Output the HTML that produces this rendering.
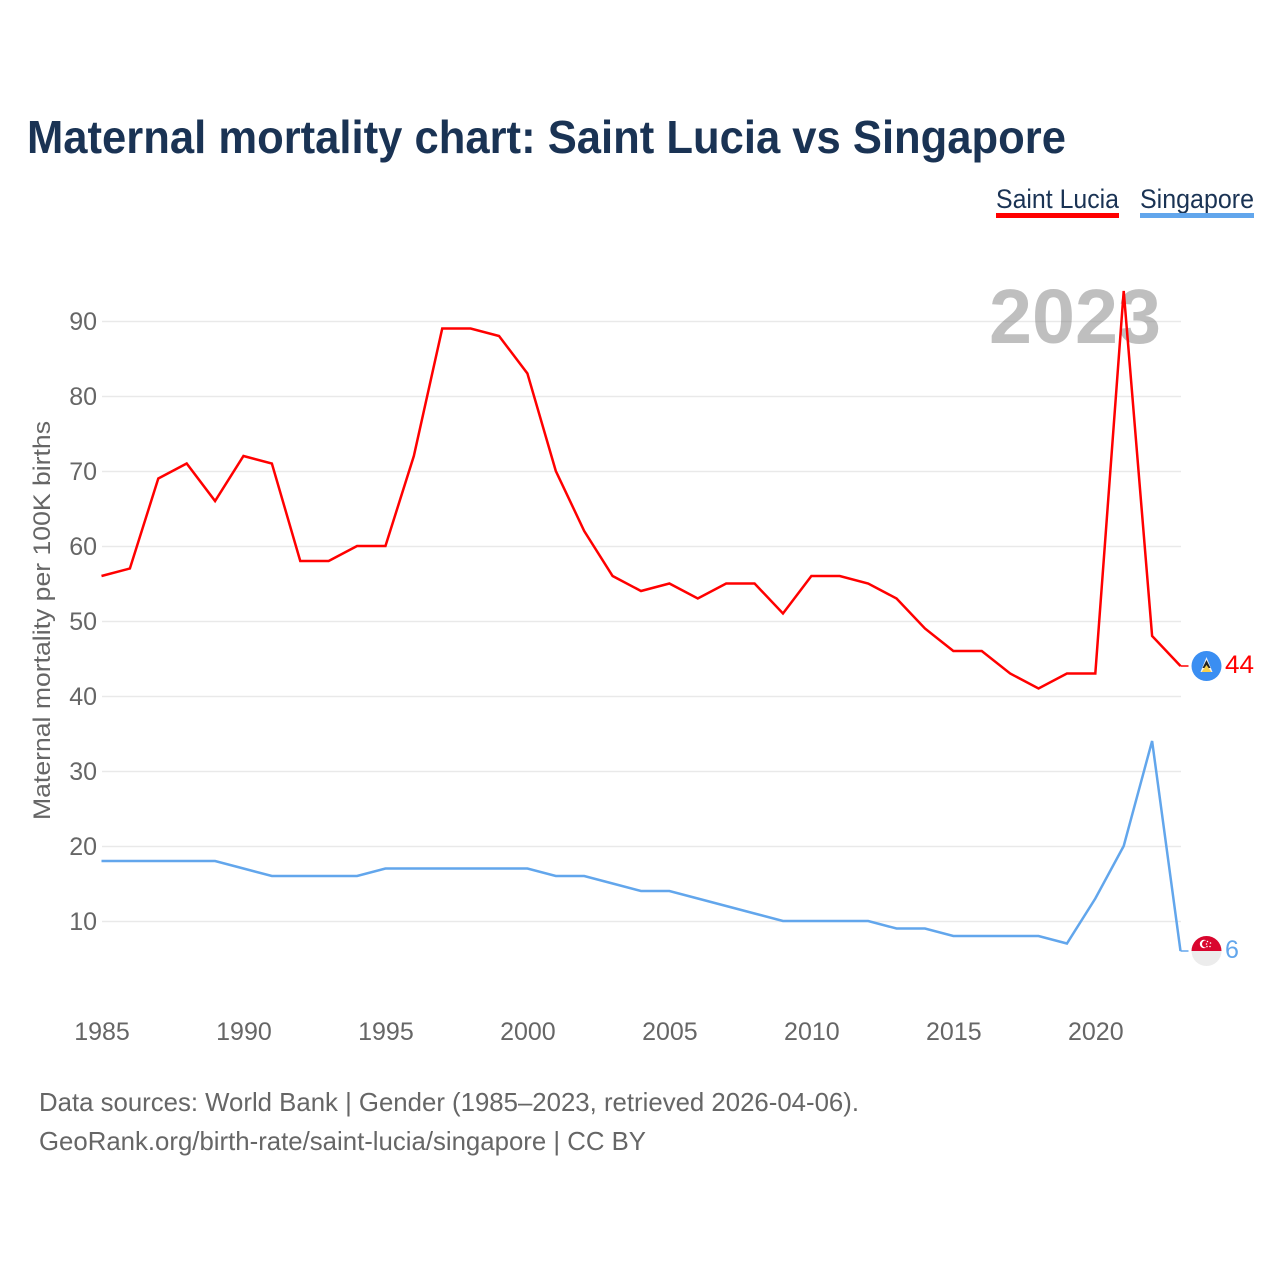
<!DOCTYPE html>
<html lang="en">
<head>
<meta charset="utf-8">
<title>Maternal mortality chart: Saint Lucia vs Singapore</title>
<style>
html,body{margin:0;padding:0;background:#fff;width:1280px;height:1280px;overflow:hidden}
svg{display:block}
text{font-family:"Liberation Sans",sans-serif}
</style>
</head>
<body>
<svg id="chart" xmlns="http://www.w3.org/2000/svg" width="1280" height="1280" viewBox="0 0 1280 1280">
  <rect width="1280" height="1280" fill="#fff"/>
  <text x="27" y="153" font-size="46" font-weight="700" fill="#1a3354" textLength="1039" lengthAdjust="spacingAndGlyphs">Maternal mortality chart: Saint Lucia vs Singapore</text>

  <g>
    <g>
      <text x="996" y="208" font-size="27" fill="#1a3354" textLength="123" lengthAdjust="spacingAndGlyphs">Saint Lucia</text>
      <rect x="996" y="213" width="123" height="5" fill="#ff0000"/>
    </g>
    <g>
      <text x="1140" y="208" font-size="27" fill="#1a3354" textLength="114" lengthAdjust="spacingAndGlyphs">Singapore</text>
      <rect x="1140" y="213" width="114" height="5" fill="#62a6ec"/>
    </g>
  </g>

  <g id="grid"></g>
  <text x="989" y="343" font-size="77" font-weight="700" fill="#808080" fill-opacity="0.5" textLength="172" lengthAdjust="spacingAndGlyphs">2023</text>
  <g id="yticks"></g>
  <g id="xticks"></g>
  <text transform="translate(50 620.5) rotate(-90)" text-anchor="middle" font-size="24" fill="#666" textLength="399" lengthAdjust="spacingAndGlyphs">Maternal mortality per 100K births</text>
  <g id="series" transform="translate(-0.5 -0.5)"></g>

  <g id="flag-lc">
    <circle cx="1206.5" cy="666" r="15" fill="#3a8ef2"/>
    <path d="M1206.5 657 L1212.5 672 H1200.5 Z" fill="#f2f2f2"/>
    <path d="M1206.5 660 L1210.5 668 H1202.5 Z" fill="#222"/>
    <path d="M1206.5 665 L1211.5 672 H1201.5 Z" fill="#f8cf4a"/>
  </g>
  <text id="end-lc" x="1225" y="673" font-size="25" fill="#ff0000" textLength="29" lengthAdjust="spacingAndGlyphs">44</text>

  <g id="flag-sg">
    <circle cx="1206.5" cy="951" r="15" fill="#ececec"/>
    <path d="M1191.5 951 A15 15 0 0 1 1221.5 951 Z" fill="#d9062e"/>
    <circle cx="1204" cy="944" r="4.2" fill="#fff"/>
    <circle cx="1205.6" cy="944" r="3.6" fill="#d9062e"/>
    <circle cx="1207.5" cy="941.5" r="0.8" fill="#fff"/>
    <circle cx="1210.5" cy="943" r="0.8" fill="#fff"/>
    <circle cx="1210" cy="946.5" r="0.8" fill="#fff"/>
    <circle cx="1207" cy="946.5" r="0.8" fill="#fff"/>
    <circle cx="1206.5" cy="944" r="0.8" fill="#fff"/>
  </g>
  <text id="end-sg" x="1225" y="958" font-size="25" fill="#62a6ec">6</text>

  <text x="39" y="1111" font-size="26" fill="#666" textLength="820" lengthAdjust="spacingAndGlyphs">Data sources: World Bank | Gender (1985–2023, retrieved 2026-04-06).</text>
  <text x="39" y="1150" font-size="26" fill="#666" textLength="607" lengthAdjust="spacingAndGlyphs">GeoRank.org/birth-rate/saint-lucia/singapore | CC BY</text>
</svg>
<script>
const years = [1985,1986,1987,1988,1989,1990,1991,1992,1993,1994,1995,1996,1997,1998,1999,2000,2001,2002,2003,2004,2005,2006,2007,2008,2009,2010,2011,2012,2013,2014,2015,2016,2017,2018,2019,2020,2021,2022,2023];
const saintLucia = [56,57,69,71,66,72,71,58,58,60,60,72,89,89,88,83,70,62,56,54,55,53,55,55,51,56,56,55,53,49,46,46,43,41,43,43,94,48,44];
const singapore = [18,18,18,18,18,17,16,16,16,16,17,17,17,17,17,17,16,16,15,14,14,13,12,11,10,10,10,10,9,9,8,8,8,8,7,13,20,34,6];
const yTickLabels = [10,20,30,40,50,60,70,80,90];
const xTickLabels = [1985,1990,1995,2000,2005,2010,2015,2020];

const NS = 'http://www.w3.org/2000/svg';
function xScale(year){ return 102 + (year - 1985) * (1181 - 102) / 38; }
function yScale(v){ return 996.5 - v * 7.5; }
function make(tag, attrs, parent){
  const el = document.createElementNS(NS, tag);
  for (const k in attrs) el.setAttribute(k, attrs[k]);
  parent.appendChild(el);
  return el;
}

const grid = document.getElementById('grid');
const yticks = document.getElementById('yticks');
yTickLabels.forEach(function(v){
  const line = make('line', {x1:102, x2:1181, y1:yScale(v), y2:yScale(v), stroke:'#e9e9e9', 'stroke-width':1.5}, grid);
  
  
  const t = make('text', {x:97, y:yScale(v) + 8.5, 'text-anchor':'end', 'font-size':25, fill:'#666'}, yticks);
  
  
  t.textContent = v;
});

const xticks = document.getElementById('xticks');
xTickLabels.forEach(function(y){
  const t = make('text', {x:xScale(y), y:1040, 'text-anchor':'middle', 'font-size':25, fill:'#666'}, xticks);
  
  
  t.textContent = y;
});

const seriesGroup = document.getElementById('series');
function drawSeries(values, color, slug){
  const pts = values.map(function(v, i){ return xScale(years[i]).toFixed(2) + ',' + yScale(v).toFixed(2); }).join(' ');
  const line = make('polyline', {points:pts, fill:'none', stroke:color, 'stroke-width':2.5, 'stroke-linejoin':'miter'}, seriesGroup);
  
  
  const last = values[values.length - 1];
  const lx = xScale(years[years.length - 1]);
  const conn = make('line', {x1:lx, x2:lx + 8, y1:yScale(last), y2:yScale(last), stroke:color, 'stroke-width':1.5}, seriesGroup);
  
  
}
drawSeries(saintLucia, '#ff0000', 'saint-lucia');
drawSeries(singapore, '#62a6ec', 'singapore');

document.getElementById('end-lc').textContent = saintLucia[saintLucia.length - 1];
document.getElementById('end-sg').textContent = singapore[singapore.length - 1];
</script>
</body>
</html>
